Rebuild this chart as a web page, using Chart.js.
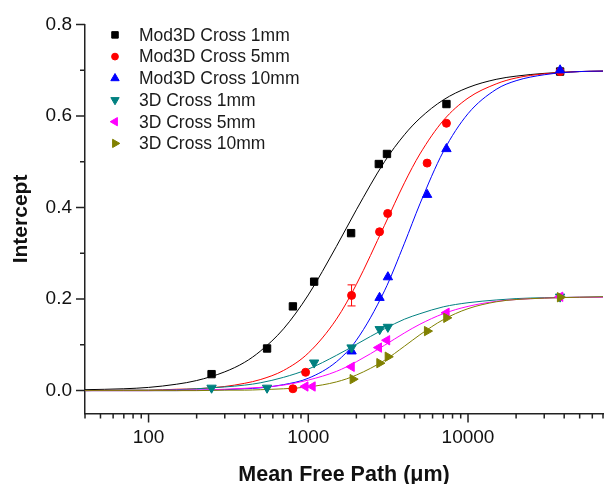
<!DOCTYPE html>
<html>
<head>
<meta charset="utf-8">
<script src="https://cdn.jsdelivr.net/npm/chart.js@4/dist/chart.umd.min.js"></script>
<style>
  html, body { margin: 0; padding: 0; background: #fff; }
  #chart { display: block; }
</style>
</head>
<body>
<canvas id="chart" width="616" height="484"></canvas>
<script>
// Measured points (mean free path in um, intercept)
const mod1X = [248, 552, 801, 1088, 1854, 2764, 3109, 7328, 37720];
const mod1Y = [0.036, 0.092, 0.184, 0.238, 0.344, 0.495, 0.517, 0.626, 0.697];
const mod5X = [801, 962, 1866, 2793, 3140, 5546, 7328, 37720];
const mod5Y = [0.004, 0.040, 0.208, 0.347, 0.387, 0.497, 0.584, 0.697];
const mod5Err = [0, 0, 0.023, 0, 0, 0, 0, 0];
const mod10X = [1866, 2793, 3150, 5546, 7328, 37720];
const mod10Y = [0.086, 0.203, 0.248, 0.428, 0.528, 0.700];
const cross1X = [248, 552, 1088, 1866, 2800, 3150, 37720];
const cross1Y = [0.006, 0.006, 0.061, 0.094, 0.134, 0.139, 0.205];
const cross5X = [958, 1062, 1866, 2764, 3109, 7328, 37720];
const cross5Y = [0.009, 0.009, 0.052, 0.094, 0.110, 0.170, 0.205];
const cross10X = [1900, 2793, 3150, 5546, 7328, 37720];
const cross10Y = [0.025, 0.060, 0.074, 0.130, 0.159, 0.204];

// Fitted curves at these x positions
const fitX = [40, 70, 100, 150, 200, 300, 400, 500, 700, 1000, 1500, 2000, 3000, 4000, 5000, 7000, 10000, 15000, 20000, 30000, 50000, 70000];
const fitMod1 = [0.002, 0.004, 0.007, 0.014, 0.022, 0.041, 0.062, 0.086, 0.135, 0.209, 0.315, 0.395, 0.500, 0.559, 0.595, 0.635, 0.662, 0.680, 0.687, 0.693, 0.697, 0.698];
const fitMod5 = [0.000, 0.001, 0.001, 0.003, 0.004, 0.009, 0.016, 0.024, 0.044, 0.082, 0.156, 0.232, 0.361, 0.454, 0.517, 0.590, 0.639, 0.670, 0.683, 0.692, 0.697, 0.698];
const fitMod10 = [0.000, 0.000, 0.000, 0.000, 0.001, 0.002, 0.004, 0.006, 0.013, 0.027, 0.063, 0.110, 0.218, 0.322, 0.408, 0.522, 0.605, 0.658, 0.677, 0.690, 0.697, 0.698];
const fitCross1 = [0.000, 0.001, 0.001, 0.002, 0.004, 0.008, 0.012, 0.017, 0.029, 0.047, 0.077, 0.101, 0.135, 0.156, 0.168, 0.183, 0.192, 0.198, 0.201, 0.203, 0.204, 0.205];
const fitCross5 = [0.000, 0.000, 0.000, 0.001, 0.001, 0.003, 0.005, 0.007, 0.012, 0.023, 0.042, 0.063, 0.099, 0.126, 0.145, 0.168, 0.184, 0.195, 0.199, 0.202, 0.204, 0.204];
const fitCross10 = [0.000, 0.000, 0.000, 0.000, 0.000, 0.001, 0.001, 0.002, 0.004, 0.008, 0.019, 0.034, 0.066, 0.097, 0.122, 0.155, 0.179, 0.194, 0.199, 0.202, 0.204, 0.205];

const seriesLabels = ['Mod3D Cross 1mm', 'Mod3D Cross 5mm', 'Mod3D Cross 10mm', '3D Cross 1mm', '3D Cross 5mm', '3D Cross 10mm'];

// Axis ticks
const xDecades = [10, 100, 1000, 10000];
const xLabelled = [100, 1000, 10000];
const yTicks = [0, 0.1, 0.2, 0.3, 0.4, 0.5, 0.6, 0.7, 0.8];

const COLORS = ['#000000', '#ff0000', '#0000ff', '#008080', '#ff00ff', '#808000'];
const MARKERS = [
    { style: 'rect', radius: 5.2, rotation: 0 },
    { style: 'circle', radius: 4, rotation: 0 },
    { style: 'triangle', radius: 5.4, rotation: 0 },
    { style: 'triangle', radius: 5.4, rotation: 180 },
    { style: 'triangle', radius: 5.4, rotation: -90 },
    { style: 'triangle', radius: 5.4, rotation: 90 }
];

const toPoints = (xs, ys) => xs.map((x, i) => ({ x: x, y: ys[i] }));

const pointSets = [
    toPoints(mod1X, mod1Y), toPoints(mod5X, mod5Y), toPoints(mod10X, mod10Y),
    toPoints(cross1X, cross1Y), toPoints(cross5X, cross5Y), toPoints(cross10X, cross10Y)
];
const fitSets = [fitMod1, fitMod5, fitMod10, fitCross1, fitCross5, fitCross10].map(ys => toPoints(fitX, ys));

// later series sit on top of earlier ones, curves underneath all markers
const scatterDatasets = pointSets.map((data, i) => ({
    label: seriesLabels[i],
    data: data,
    order: 10 - i,
    showLine: false,
    backgroundColor: COLORS[i],
    borderColor: COLORS[i],
    borderWidth: 1,
    pointStyle: MARKERS[i].style,
    pointRadius: MARKERS[i].radius,
    pointRotation: MARKERS[i].rotation,
    errors: i === 1 ? mod5Err : null
}));

const fitDatasets = fitSets.map((data, i) => ({
    label: '',
    data: data,
    order: 30 - i,
    showLine: true,
    borderColor: COLORS[i],
    borderWidth: 1,
    pointRadius: 0,
    cubicInterpolationMode: 'monotone',
    fill: false
}));

const AXIS_COLOR = '#222';

// Outward tick marks, long on labelled values, short in between
const tickMarks = {
    id: 'tickMarks',
    afterDraw(chart) {
        const { ctx, chartArea } = chart;
        const xs = chart.scales.x, ys = chart.scales.y;
        ctx.save();
        ctx.strokeStyle = AXIS_COLOR;
        ctx.lineWidth = 1.5;
        ctx.beginPath();
        xs.ticks.forEach(t => {
            const px = xs.getPixelForValue(t.value);
            const major = Math.abs(Math.log10(t.value) % 1) < 1e-9;
            ctx.moveTo(px, chartArea.bottom);
            ctx.lineTo(px, chartArea.bottom + (major ? 9 : 5));
        });
        ys.ticks.forEach(t => {
            const py = ys.getPixelForValue(t.value);
            const major = Math.round(t.value * 10) % 2 === 0;
            ctx.moveTo(chartArea.left, py);
            ctx.lineTo(chartArea.left - (major ? 9 : 5), py);
        });
        ctx.stroke();
        ctx.restore();
    }
};

// Vertical error bars with caps
const errorBars = {
    id: 'errorBars',
    afterDatasetsDraw(chart) {
        const { ctx } = chart;
        const xs = chart.scales.x, ys = chart.scales.y;
        ctx.save();
        chart.data.datasets.forEach(ds => {
            if (!ds.errors) return;
            ctx.strokeStyle = ds.borderColor;
            ctx.lineWidth = 1;
            ds.data.forEach((p, i) => {
                const e = ds.errors[i];
                if (!e) return;
                const px = xs.getPixelForValue(p.x);
                const top = ys.getPixelForValue(p.y + e);
                const bot = ys.getPixelForValue(p.y - e);
                ctx.beginPath();
                ctx.moveTo(px, top); ctx.lineTo(px, bot);
                ctx.moveTo(px - 4, top); ctx.lineTo(px + 4, top);
                ctx.moveTo(px - 4, bot); ctx.lineTo(px + 4, bot);
                ctx.stroke();
            });
        });
        ctx.restore();
    }
};

// Legend inside the plot, top left
const insideLegend = {
    id: 'insideLegend',
    afterDraw(chart) {
        const { ctx, chartArea } = chart;
        const markerX = chartArea.left + 30;
        const textX = chartArea.left + 54;
        const startY = chartArea.top + 10.5;
        const rowH = 21.7;
        ctx.save();
        ctx.font = '17.5px "Liberation Sans", Arial, sans-serif';
        ctx.textBaseline = 'middle';
        ctx.textAlign = 'left';
        seriesLabels.forEach((label, i) => {
            const y = startY + i * rowH;
            ctx.fillStyle = COLORS[i];
            ctx.strokeStyle = COLORS[i];
            ctx.lineWidth = 1;
            Chart.helpers.drawPoint(ctx, {
                pointStyle: MARKERS[i].style,
                radius: MARKERS[i].radius - 0.6,
                rotation: MARKERS[i].rotation,
                borderWidth: 1
            }, markerX, y);
            ctx.fillStyle = '#1a1a1a';
            ctx.fillText(label, textX, y + 1);
        });
        ctx.restore();
    }
};

document.addEventListener('DOMContentLoaded', () => {
    const ctx = document.getElementById('chart').getContext('2d');
    window.chart = new Chart(ctx, {
        type: 'scatter',
        data: { datasets: scatterDatasets.concat(fitDatasets) },
        options: {
            responsive: false,
            animation: false,
            devicePixelRatio: 1,
            layout: { padding: { top: 24, right: 2, left: 0, bottom: 0 } },
            plugins: {
                legend: { display: false },
                tooltip: { enabled: false }
            },
            scales: {
                x: {
                    type: 'logarithmic',
                    min: 40,
                    max: 70000,
                    afterBuildTicks: (scale) => {
                        const ticks = [];
                        xDecades.forEach(d => {
                            for (let k = 1; k <= 9; k++) {
                                const v = d * k;
                                if (v >= 40 && v <= 70000) ticks.push({ value: v });
                            }
                        });
                        scale.ticks = ticks;
                    },
                    afterFit: (scale) => { scale.height = 70.5; },
                    grid: { display: false, drawTicks: false },
                    border: { display: true, color: AXIS_COLOR, width: 1.5 },
                    ticks: {
                        autoSkip: false,
                        maxRotation: 0,
                        padding: 13,
                        color: '#111',
                        font: { family: '"Liberation Sans", Arial, sans-serif', size: 19 },
                        callback: (v) => xLabelled.includes(v) ? String(v) : ''
                    },
                    title: {
                        display: true,
                        text: 'Mean Free Path (\u03bcm)',
                        color: '#111',
                        font: { family: '"Liberation Sans", Arial, sans-serif', size: 21.5, weight: 'bold', lineHeight: 1 },
                        padding: -1.5
                    }
                },
                y: {
                    min: -0.05,
                    max: 0.8,
                    afterBuildTicks: (scale) => { scale.ticks = yTicks.map(v => ({ value: v })); },
                    afterFit: (scale) => { scale.width = 85; },
                    grid: { display: false, drawTicks: false },
                    border: { display: true, color: AXIS_COLOR, width: 1.5 },
                    ticks: {
                        padding: 13,
                        color: '#111',
                        font: { family: '"Liberation Sans", Arial, sans-serif', size: 19 },
                        callback: (v) => Math.round(v * 10) % 2 === 0 ? v.toFixed(1) : ''
                    },
                    title: {
                        display: true,
                        text: 'Intercept',
                        color: '#111',
                        font: { family: '"Liberation Sans", Arial, sans-serif', size: 21, weight: 'bold', lineHeight: 1 },
                        padding: 10.5
                    }
                }
            }
        },
        plugins: [tickMarks, errorBars, insideLegend]
    });
});
</script>
</body>
</html>
